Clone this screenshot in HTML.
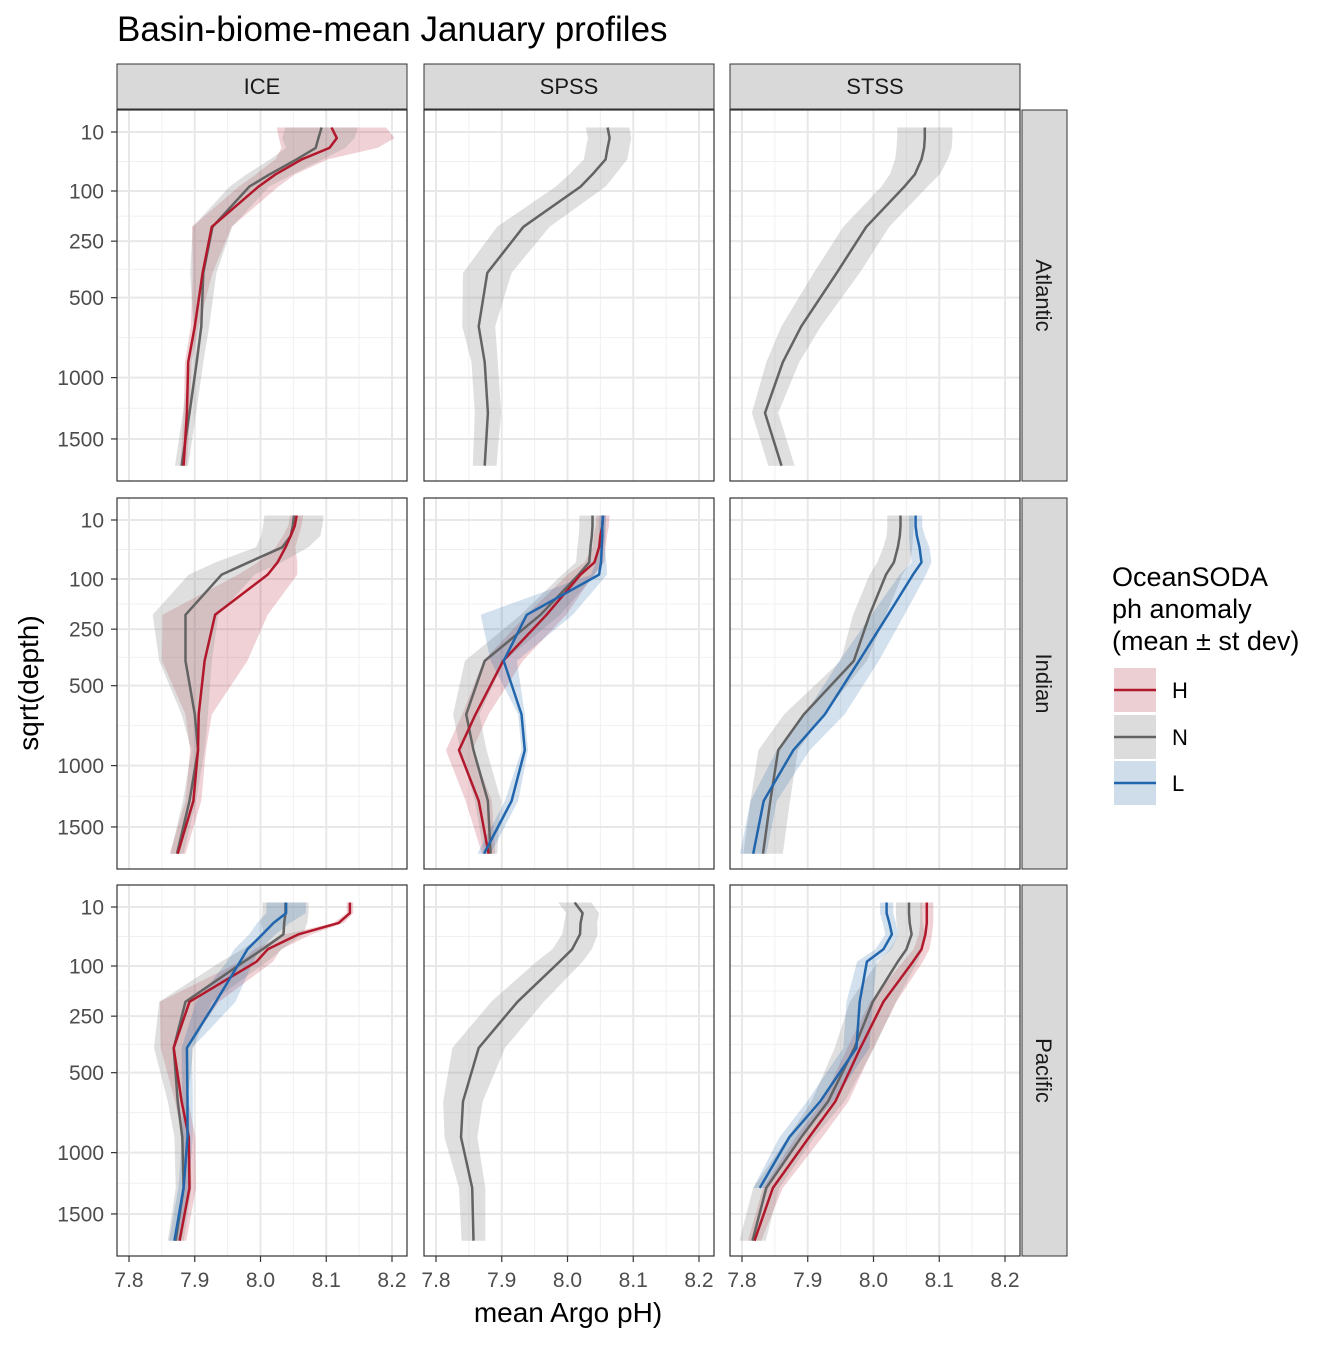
<!DOCTYPE html>
<html><head><meta charset="utf-8"><style>
html,body{margin:0;padding:0;background:#fff;}
svg text{font-family:"Liberation Sans",sans-serif;}
</style></head><body>
<svg id="chart" width="1344" height="1344" viewBox="0 0 1344 1344" xmlns="http://www.w3.org/2000/svg">
<text x="117" y="41" font-size="35" fill="#000">Basin-biome-mean January profiles</text>
<text x="568" y="1322" font-size="28" text-anchor="middle" fill="#000">mean Argo pH)</text>
<text transform="translate(38,683) rotate(-90)" font-size="28" text-anchor="middle" fill="#000">sqrt(depth)</text>
<g id="panels"></g>
<g>
<text x="1112" y="586" font-size="27">OceanSODA</text>
<text x="1112" y="618" font-size="27">ph anomaly</text>
<text x="1112" y="650" font-size="27">(mean ± st dev)</text>
<g><rect x="1114" y="668" width="42" height="44" fill="#eccfd3"/><line x1="1114" y1="690" x2="1156" y2="690" stroke="#b2182b" stroke-width="2.5"/><text x="1172" y="698" font-size="22">H</text></g>
<g><rect x="1114" y="715" width="42" height="44" fill="#dcdcdc"/><line x1="1114" y1="737" x2="1156" y2="737" stroke="#636363" stroke-width="2.5"/><text x="1172" y="745" font-size="22">N</text></g>
<g><rect x="1114" y="761" width="42" height="44" fill="#cfdcea"/><line x1="1114" y1="783" x2="1156" y2="783" stroke="#2166ac" stroke-width="2.5"/><text x="1172" y="791" font-size="22">L</text></g>
</g>
</svg>
<script>
const depths = [7, 15, 25, 40, 65, 90, 200, 380, 660, 890, 1275, 1750];
const xTicks = [7.8, 7.9, 8.0, 8.1, 8.2];
const xTickLabels = ["7.8", "7.9", "8.0", "8.1", "8.2"];
const yTicks = [10, 100, 250, 500, 1000, 1500];
const yTickLabels = ["10", "100", "250", "500", "1000", "1500"];
const biomes = ["ICE", "SPSS", "STSS"];
const basins = ["Atlantic", "Indian", "Pacific"];

// Atlantic
const atlIceN = [8.093, 8.088, 8.084, 8.055, 8.014, 7.983, 7.927, 7.913, 7.910, 7.903, 7.892, 7.880];
const atlIceNsd = [0.055, 0.055, 0.045, 0.04, 0.035, 0.03, 0.03, 0.02, 0.012, 0.01, 0.01, 0.01];
const atlIceH = [8.108, 8.116, 8.105, 8.063, 8.023, 7.997, 7.926, 7.912, 7.900, 7.890, 7.888, 7.883];
const atlIceHsd = [0.083, 0.088, 0.073, 0.04, 0.03, 0.03, 0.03, 0.015, 0.006, 0.005, 0.005, 0.005];
const atlSpssN = [8.061, 8.064, 8.061, 8.058, 8.038, 8.020, 7.933, 7.878, 7.865, 7.874, 7.879, 7.874];
const atlSpssNsd = [0.033, 0.033, 0.033, 0.033, 0.035, 0.038, 0.04, 0.037, 0.025, 0.02, 0.02, 0.018];
const atlStssN = [8.078, 8.078, 8.077, 8.073, 8.063, 8.047, 7.989, 7.944, 7.890, 7.862, 7.835, 7.860];
const atlStssNsd = [0.042, 0.042, 0.042, 0.04, 0.038, 0.035, 0.035, 0.035, 0.03, 0.025, 0.02, 0.02];
// Indian
const indIceN = [8.051, 8.049, 8.046, 8.033, 7.982, 7.941, 7.886, 7.886, 7.900, 7.905, 7.892, 7.873];
const indIceNsd = [0.045, 0.045, 0.045, 0.04, 0.05, 0.05, 0.05, 0.04, 0.02, 0.01, 0.01, 0.01];
const indIceH = [8.055, 8.052, 8.046, 8.038, 8.026, 8.011, 7.931, 7.915, 7.906, 7.905, 7.898, 7.874];
const indIceHsd = [0.01, 0.01, 0.012, 0.015, 0.03, 0.045, 0.08, 0.065, 0.02, 0.012, 0.012, 0.012];
const indSpssN = [8.038, 8.038, 8.037, 8.035, 8.033, 8.017, 7.959, 7.874, 7.846, 7.857, 7.879, 7.883];
const indSpssNsd = [0.02, 0.02, 0.02, 0.02, 0.02, 0.025, 0.03, 0.03, 0.02, 0.02, 0.02, 0.01];
const indSpssH = [8.054, 8.053, 8.050, 8.048, 8.041, 8.020, 7.968, 7.902, 7.860, 7.835, 7.865, 7.880];
const indSpssHsd = [0.01, 0.01, 0.01, 0.01, 0.015, 0.02, 0.03, 0.03, 0.02, 0.02, 0.02, 0.01];
const indSpssL = [8.054, 8.053, 8.053, 8.052, 8.051, 8.048, 7.938, 7.903, 7.930, 7.935, 7.915, 7.873];
const indSpssLsd = [0.005, 0.005, 0.005, 0.005, 0.008, 0.012, 0.07, 0.02, 0.005, 0.005, 0.01, 0.01];
const indStssN = [8.041, 8.041, 8.040, 8.037, 8.031, 8.019, 7.994, 7.970, 7.894, 7.855, 7.843, 7.832];
const indStssNsd = [0.02, 0.02, 0.02, 0.022, 0.025, 0.025, 0.025, 0.02, 0.03, 0.03, 0.03, 0.03];
const indStssL = [8.064, 8.064, 8.066, 8.070, 8.073, 8.060, 8.022, 7.978, 7.926, 7.878, 7.833, 7.817];
const indStssLsd = [0.01, 0.01, 0.012, 0.015, 0.015, 0.02, 0.025, 0.03, 0.03, 0.025, 0.02, 0.02];
// Pacific
const pacIceN = [8.038, 8.038, 8.036, 8.035, 8.003, 7.975, 7.886, 7.868, 7.874, 7.881, 7.883, 7.871];
const pacIceNsd = [0.035, 0.035, 0.035, 0.03, 0.03, 0.035, 0.04, 0.03, 0.015, 0.012, 0.012, 0.012];
const pacIceH = [8.136, 8.136, 8.119, 8.058, 8.011, 7.994, 7.892, 7.868, 7.880, 7.891, 7.892, 7.877];
const pacIceHsd = [0.005, 0.005, 0.008, 0.02, 0.02, 0.025, 0.045, 0.02, 0.01, 0.01, 0.01, 0.01];
const pacIceL = [8.039, 8.039, 8.020, 8.003, 7.980, 7.969, 7.932, 7.888, 7.889, 7.889, 7.883, 7.869];
const pacIceLsd = [0.03, 0.03, 0.025, 0.02, 0.02, 0.02, 0.03, 0.008, 0.008, 0.008, 0.008, 0.008];
const pacSpssN = [8.011, 8.023, 8.020, 8.019, 8.007, 7.988, 7.924, 7.865, 7.841, 7.838, 7.855, 7.857];
const pacSpssNsd = [0.025, 0.025, 0.025, 0.027, 0.03, 0.035, 0.04, 0.04, 0.03, 0.025, 0.02, 0.018];
const pacStssN = [8.054, 8.054, 8.055, 8.058, 8.050, 8.037, 7.999, 7.971, 7.931, 7.890, 7.837, 7.816];
const pacStssNsd = [0.02, 0.02, 0.02, 0.02, 0.025, 0.03, 0.035, 0.03, 0.025, 0.02, 0.02, 0.02];
const pacStssH = [8.081, 8.081, 8.081, 8.079, 8.073, 8.060, 8.015, 7.980, 7.942, 7.902, 7.847, 7.819];
const pacStssHsd = [0.01, 0.01, 0.01, 0.01, 0.012, 0.015, 0.02, 0.02, 0.02, 0.02, 0.015, 0.01];
const pacStssL = [8.020, 8.020, 8.024, 8.028, 8.015, 7.990, 7.979, 7.974, 7.919, 7.872, 7.827, null];
const pacStssLsd = [0.01, 0.01, 0.01, 0.01, 0.012, 0.015, 0.02, 0.02, 0.02, 0.015, 0.01, null];

const panelSeries = [
  [[["H", atlIceH, atlIceHsd], ["N", atlIceN, atlIceNsd]], [["N", atlSpssN, atlSpssNsd]], [["N", atlStssN, atlStssNsd]]],
  [[["H", indIceH, indIceHsd], ["N", indIceN, indIceNsd]], [["H", indSpssH, indSpssHsd], ["N", indSpssN, indSpssNsd], ["L", indSpssL, indSpssLsd]], [["N", indStssN, indStssNsd], ["L", indStssL, indStssLsd]]],
  [[["H", pacIceH, pacIceHsd], ["N", pacIceN, pacIceNsd], ["L", pacIceL, pacIceLsd]], [["N", pacSpssN, pacSpssNsd]], [["H", pacStssH, pacStssHsd], ["N", pacStssN, pacStssNsd], ["L", pacStssL, pacStssLsd]]]
];

const lineCol = {H: "#b2182b", N: "#636363", L: "#2166ac"};
const fillCol = {H: "rgba(178,24,43,0.2)", N: "rgba(150,150,150,0.3)", L: "rgba(33,102,172,0.2)"};
const lefts = [117, 424, 730], tops = [110, 498, 885], PW = 290, PH = 371;
const NS = "http://www.w3.org/2000/svg";
const root = document.getElementById("panels");

function xs(v, c) { return lefts[c] + 12 + (v - 7.8) * 657.5; }
function ys(d, r) { return tops[r] + 22 + (Math.sqrt(d) - Math.sqrt(10)) * 8.63; }
function ysq(s, r) { return tops[r] + 22 + (s - Math.sqrt(10)) * 8.63; }
function mk(tag, attrs, parent) {
  const e = document.createElementNS(NS, tag);
  for (const k in attrs) e.setAttribute(k, attrs[k]);
  parent.appendChild(e);
  return e;
}

for (let c = 0; c < 3; c++) {
  const s = mk("rect", {x: lefts[c], y: 64, width: PW, height: 45, fill: "#d9d9d9", stroke: "#333", "stroke-width": 1}, root);
  
  
  const t = mk("text", {x: lefts[c] + PW / 2, y: 94, "font-size": 22, "text-anchor": "middle", fill: "#1a1a1a"}, root);
  t.textContent = biomes[c];
  
  
}
for (let r = 0; r < 3; r++) {
  const s = mk("rect", {x: 1022, y: tops[r], width: 45, height: PH, fill: "#d9d9d9", stroke: "#333", "stroke-width": 1}, root);
  
  
  const cy = tops[r] + PH / 2;
  const t = mk("text", {x: 0, y: 0, "font-size": 22, "text-anchor": "middle", fill: "#1a1a1a", transform: "translate(1036," + cy + ") rotate(90)"}, root);
  t.textContent = basins[r];
  
  
}

for (let r = 0; r < 3; r++) {
  for (let c = 0; c < 3; c++) {
    const g = mk("g", {}, root);
    
    
    const L = lefts[c], T = tops[r];
    mk("rect", {x: L, y: T, width: PW, height: PH, fill: "#fff"}, g);
    for (let i = 0; i < xTicks.length - 1; i++) {
      const x = xs((xTicks[i] + xTicks[i + 1]) / 2, c);
      mk("line", {x1: x, x2: x, y1: T, y2: T + PH, stroke: "#f0f0f0", "stroke-width": 1}, g);
    }
    for (let i = 0; i < yTicks.length - 1; i++) {
      const y = ysq((Math.sqrt(yTicks[i]) + Math.sqrt(yTicks[i + 1])) / 2, r);
      mk("line", {x1: L, x2: L + PW, y1: y, y2: y, stroke: "#f0f0f0", "stroke-width": 1}, g);
    }
    xTicks.forEach(v => { const x = xs(v, c); mk("line", {x1: x, x2: x, y1: T, y2: T + PH, stroke: "#e8e8e8", "stroke-width": 2}, g); });
    yTicks.forEach(d => { const y = ys(d, r); mk("line", {x1: L, x2: L + PW, y1: y, y2: y, stroke: "#e8e8e8", "stroke-width": 2}, g); });

    const series = panelSeries[r][c];
    series.forEach(([k, m, sd]) => {
      const lo = [], hi = [];
      depths.forEach((d, i) => {
        if (m[i] === null) return;
        lo.push(xs(m[i] - sd[i], c).toFixed(1) + "," + ys(d, r).toFixed(1));
        hi.push(xs(m[i] + sd[i], c).toFixed(1) + "," + ys(d, r).toFixed(1));
      });
      const p = mk("polygon", {points: lo.concat(hi.reverse()).join(" "), fill: fillCol[k]}, g);
      
      
    });
    const order = ["N", "H", "L"];
    order.forEach(key => {
      series.filter(sr => sr[0] === key).forEach(([k, m]) => {
        const pts = [];
        depths.forEach((d, i) => { if (m[i] !== null) pts.push(xs(m[i], c).toFixed(1) + "," + ys(d, r).toFixed(1)); });
        const pl = mk("polyline", {points: pts.join(" "), fill: "none", stroke: lineCol[k], "stroke-width": 2.5, "stroke-linejoin": "round"}, g);
        
        
      });
    });
    mk("rect", {x: L, y: T, width: PW, height: PH, fill: "none", stroke: "#333", "stroke-width": 1.2}, g);

    if (c === 0) {
      yTicks.forEach((d, i) => {
        const y = ys(d, r);
        mk("line", {x1: L - 6, x2: L, y1: y, y2: y, stroke: "#333", "stroke-width": 1.2}, g);
        const t = mk("text", {x: L - 13, y: y + 7.5, "font-size": 21, "text-anchor": "end", fill: "#4d4d4d"}, g);
        t.textContent = yTickLabels[i];
        
        
      });
    }
    if (r === 2) {
      xTicks.forEach((v, i) => {
        const x = xs(v, c);
        mk("line", {x1: x, x2: x, y1: T + PH, y2: T + PH + 6, stroke: "#333", "stroke-width": 1.2}, g);
        const t = mk("text", {x: x, y: T + PH + 31, "font-size": 21, "text-anchor": "middle", fill: "#4d4d4d"}, g);
        t.textContent = xTickLabels[i];
        
        
      });
    }
  }
}
</script>
</body></html>
